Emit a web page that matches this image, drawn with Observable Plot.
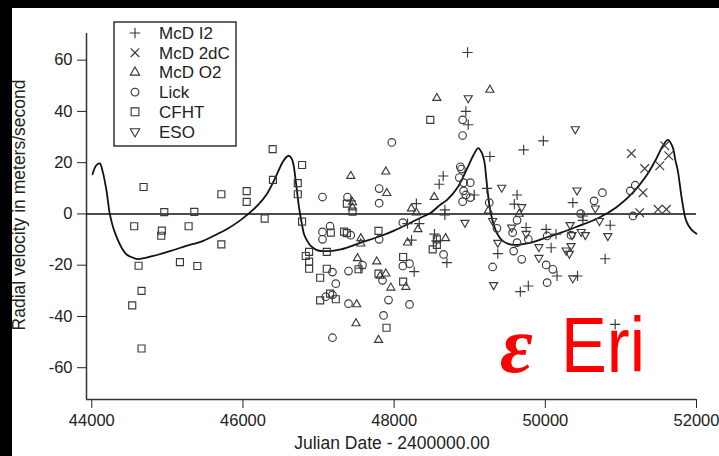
<!DOCTYPE html>
<html><head><meta charset="utf-8">
<script src="https://cdn.jsdelivr.net/npm/d3@7"></script>
<script src="https://cdn.jsdelivr.net/npm/@observablehq/plot@0.6"></script>
<style>
html,body{margin:0;padding:0;background:#fff;}
#wrap{position:relative;width:719px;height:456px;overflow:hidden;background:#fff;}
#wrap svg{position:absolute;left:0;top:0;}
.blk{position:absolute;background:#000;}
</style></head><body>
<div id="wrap"></div>
<script>
// ---- data (Julian Date - 2400000, radial velocity m/s) ----
const seriesNames = ["McD I2", "McD 2dC", "McD O2", "Lick", "CFHT", "ESO"];
const xTicks = [44000, 46000, 48000, 50000, 52000];
const yTicks = [-60, -40, -20, 0, 20, 40, 60];

const mcdI2 = [[47426,5.1],[47559,-21.2],[48177,-3.8],[48230,-10.2],[48265,-22.5],[48294,4.0],[48332,-3.8],[48534,-7.9],[48560,-10.5],[48596,11.6],[48649,14.8],[48671,1.6],[48671,-0.4],[48698,-19.0],[48949,40.0],[48971,63.0],[48980,34.8],[49060,7.4],[49228,10.0],[49267,22.4],[49371,-15.5],[49590,3.8],[49626,7.4],[49669,-30.3],[49713,25.0],[49746,-5.3],[49775,-28.1],[49974,28.5],[50011,-6.0],[50077,-13.2],[50142,-7.9],[50155,-24.2],[50364,4.4],[50426,-24.2],[50497,-0.8],[50497,-2.5],[50791,-17.5],[50858,-4.4],[50924,-43.1]];
const mcd2dC = [[51139,23.6],[51293,8.3],[51248,0.5],[51315,17.7],[51492,1.8],[51514,18.8],[51580,26.6],[51602,1.8],[51633,22.7]];
const mcdO2 = [[47426,14.8],[47449,2.5],[47449,4.5],[47505,-35.3],[47495,-42.7],[47515,-17.3],[47559,-9.5],[47559,-11.6],[47770,-18.6],[47793,-49.2],[47815,-24.2],[47890,16.5],[47890,-23.3],[47903,8.1],[47956,-28.8],[48155,-28.5],[48177,-11.2],[48228,2.1],[48294,0.5],[48315,-6.0],[48530,6.6],[48565,45.2],[48680,-9.5],[49245,1.2],[49267,48.4],[49656,0.0]];
const lick = [[47052,6.6],[47052,-7.0],[47052,-9.9],[47095,-32.3],[47152,-4.8],[47184,-22.7],[47184,-31.6],[47184,-48.3],[47228,-27.2],[47383,6.6],[47396,-22.3],[47396,-35.0],[47426,-8.3],[47581,-20.0],[47802,9.9],[47802,4.2],[47802,-9.9],[47846,-25.9],[47860,-39.6],[47925,-33.6],[47969,27.9],[48115,-3.4],[48115,-20.3],[48203,-19.4],[48203,-35.3],[48654,-15.8],[48862,14.2],[48875,18.4],[48890,17.5],[48906,36.7],[48906,30.6],[48906,4.8],[48919,12.2],[48919,9.0],[48949,7.4],[49007,12.2],[49007,6.4],[49258,4.4],[49303,-20.7],[49360,-5.6],[49568,-7.3],[49581,-14.5],[49626,-2.5],[49626,-11.2],[49688,-17.7],[49775,-9.9],[50011,-19.9],[50024,-8.6],[50024,-26.8],[50099,-21.6],[50340,-8.3],[50468,0.1],[50645,5.1],[50755,8.3],[51124,9.0],[51160,-0.8],[51190,11.2]];
const cfht = [[44535,-35.7],[44561,-4.8],[44619,-20.2],[44658,-30.0],[44658,-52.5],[44685,10.5],[44919,-8.5],[44927,-6.5],[44959,0.7],[45166,-18.8],[45281,-4.8],[45356,0.8],[45396,-20.3],[45714,7.7],[45714,-11.9],[46049,8.9],[46049,4.7],[46287,-1.8],[46393,25.3],[46397,13.3],[46725,12.0],[46725,7.7],[46782,19.1],[46782,-3.0],[46831,-16.4],[46875,-14.8],[46875,-18.6],[46875,-21.4],[47021,-24.9],[47021,-33.7],[47109,-14.8],[47109,-21.4],[47152,-31.1],[47162,-7.3],[47228,-33.3],[47338,-6.9],[47374,-7.5],[47374,4.0],[47449,0.9],[47529,-21.6],[47793,-6.6],[47793,-23.3],[47899,-44.4],[48119,-16.8],[48119,-26.4],[48478,36.7],[48510,-13.8],[48565,-9.9],[48565,-12.1]];
const eso = [[48936,-3.4],[48980,45.2],[49303,-2.7],[49316,-27.7],[49371,-11.2],[49423,10.3],[49555,-5.3],[49688,2.7],[49746,-7.7],[49915,-12.9],[49915,-17.1],[50275,-14.2],[50318,-15.5],[50328,-4.3],[50340,-12.5],[50354,-8.2],[50364,-25.1],[50396,33.1],[50419,9.2],[50474,-7.0],[50530,-8.2],[50662,2.2],[50716,-2.7],[50827,-8.6]];
const fitCurve = [[44010,15.5],[44060,19.0],[44106,19.7],[44142,16.8],[44195,9.0],[44238,0],[44290,-6.0],[44350,-10.5],[44400,-13.5],[44460,-15.8],[44548,-17.1],[44614,-17.6],[44800,-16.5],[45033,-14.5],[45250,-12.5],[45475,-10.5],[45650,-8.0],[45784,-6.0],[45950,-2.8],[46071,0],[46200,3.5],[46314,7.7],[46402,12.5],[46469,16.8],[46530,20.5],[46601,22.7],[46640,21.8],[46667,19.4],[46698,12.9],[46742,2.5],[46780,-4.0],[46808,-7.9],[46850,-10.5],[46897,-12.5],[46970,-14.0],[47052,-14.5],[47295,-13.8],[47559,-11.2],[47824,-8.6],[48000,-6.5],[48177,-4.0],[48397,-0.8],[48486,0.5],[48618,3.8],[48700,5.5],[48839,10.3],[48971,18.1],[49050,23.0],[49113,25.7],[49160,23.8],[49192,20.7],[49215,15.0],[49236,9.0],[49260,3.5],[49281,0],[49320,-4.5],[49347,-6.6],[49390,-9.0],[49436,-10.5],[49510,-11.7],[49590,-12.1],[49700,-11.8],[49811,-11.2],[50032,-9.0],[50208,-7.3],[50407,-5.1],[50716,-1.4],[50937,2.5],[51158,8.3],[51334,14.8],[51466,21.4],[51555,26.6],[51621,28.9],[51687,25.9],[51720,21.0],[51753,16.8],[51810,5.1],[51864,-2.7],[51930,-6.0],[52000,-7.7]];

// ---- rendering ----
const rows = arr => arr.map(([jd, rv]) => ({jd, rv}));
const X0 = 43930, X1 = 52000, Y0 = -72.4, Y1 = 70.4;
const symStroke = "#3a3a3a", symW = 1.15;
const symbolSpecs = [
  {data: mcdI2, symbol: "plus", r: 3.4, lr: 3.5, rotate: 0},
  {data: mcd2dC, symbol: "times", r: 4.0, lr: 4.0, rotate: 0},
  {data: mcdO2, symbol: "triangle", r: 3.0, lr: 3.5, rotate: 0},
  {data: lick, symbol: "circle", r: 3.8, lr: 3.9, rotate: 0},
  {data: cfht, symbol: "square", r: 3.95, lr: 4.4, rotate: 0},
  {data: eso, symbol: "triangle", r: 3.0, lr: 3.5, rotate: 180}
];
const fmt = d => String(d);

const chart = Plot.plot({
  width: 719, height: 456,
  marginLeft: 86, marginRight: 23, marginTop: 33, marginBottom: 57,
  x: {domain: [X0, X1], ticks: xTicks, tickSize: 9, tickPadding: 6, label: null, tickFormat: fmt},
  y: {domain: [Y0, Y1], ticks: yTicks, tickSize: 9, tickPadding: 5, label: null, tickFormat: fmt},
  style: {fontFamily: "'Liberation Sans', Arial, sans-serif", fontSize: "16.5px", color: "#222", background: "transparent"},
  marks: [
    Plot.ruleX([X0], {stroke: "#333", strokeWidth: 1.5}),
    Plot.ruleY([Y0], {stroke: "#333", strokeWidth: 1.5}),
    Plot.ruleY([0], {stroke: "#111", strokeWidth: 1.5}),
    Plot.line(rows(fitCurve), {x: "jd", y: "rv", curve: "catmull-rom", stroke: "#111", strokeWidth: 1.8}),
    ...symbolSpecs.map(s => Plot.dot(rows(s.data), {
      x: "jd", y: "rv", symbol: () => s.symbol, r: s.r, rotate: s.rotate,
      fill: "none", stroke: symStroke, strokeWidth: symW
    }))
  ]
});
document.getElementById("wrap").appendChild(chart);

const svg = d3.select(chart);
const font = "'Liberation Sans', Arial, sans-serif";

// axis titles
svg.append("text").attr("transform", "translate(25,205) rotate(-90)")
  .attr("text-anchor", "middle").attr("font-family", font).attr("font-size", 17.5).attr("fill", "#222")
  .text("Radial velocity in meters/second");
svg.append("text").attr("x", 392).attr("y", 448.5)
  .attr("text-anchor", "middle").attr("font-family", font).attr("font-size", 17.5).attr("fill", "#222")
  .text("Julian Date - 2400000.00");

// legend
const lg = svg.append("g");
lg.append("rect").attr("x", 114).attr("y", 22).attr("width", 122).attr("height", 124)
  .attr("fill", "#fff").attr("stroke", "#111").attr("stroke-width", 1.3);
const d3sym = {plus: d3.symbolPlus, times: d3.symbolTimes, triangle: d3.symbolTriangle, circle: d3.symbolCircle, square: d3.symbolSquare};
symbolSpecs.forEach((s, i) => {
  const cy = 33 + i * 19.7;
  lg.append("path")
    .attr("d", d3.symbol(d3sym[s.symbol], Math.PI * s.lr * s.lr)())
    .attr("transform", `translate(135,${cy}) rotate(${s.rotate})`)
    .attr("fill", "none").attr("stroke", "#333").attr("stroke-width", 1.1);
  lg.append("text").attr("x", 159).attr("y", cy + 6).attr("text-anchor", "start")
    .attr("font-family", font).attr("font-size", 17).attr("fill", "#222")
    .text(seriesNames[i]);
});

// star label (drawn beneath the data symbols)
const labG = svg.append("g").attr("fill", "#ff0000");
labG.append("text").attr("x", 500).attr("y", 371.5).attr("text-anchor", "start")
  .attr("font-family", "'Liberation Serif', 'DejaVu Serif', serif")
  .attr("font-style", "italic").attr("font-weight", "bold").attr("font-size", 80).text("ε");
labG.append("text").attr("x", 561).attr("y", 371.5).attr("text-anchor", "start")
  .attr("font-family", font).attr("font-size", 78)
  .attr("textLength", 84).attr("lengthAdjust", "spacingAndGlyphs").text("Eri");
svg.node().insertBefore(labG.node(), svg.node().querySelector("g[aria-label='dot']") || null);

// black borders of the original picture
const wrap = document.getElementById("wrap");
[["0px","0px","719px","8px"],["0px","0px","12px","456px"]].forEach(([l,t,w,h]) => {
  const d = document.createElement("div"); d.className = "blk";
  d.style.left = l; d.style.top = t; d.style.width = w; d.style.height = h;
  wrap.appendChild(d);
});
</script>
</body></html>
